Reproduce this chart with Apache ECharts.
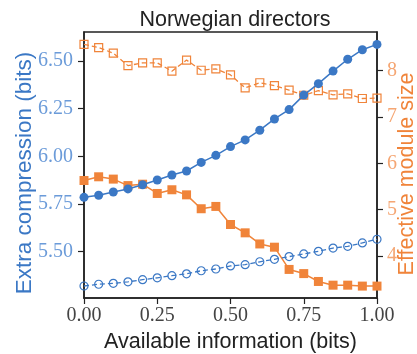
<!DOCTYPE html>
<html>
<head>
<meta charset="utf-8">
<script src="https://cdn.jsdelivr.net/npm/echarts@6/dist/echarts.min.js"></script>
<style>html,body{margin:0;padding:0;background:#fff;}#c{width:417px;height:354px;}</style>
</head>
<body>
<div id="c"></div>
<script>
const xValues = [0,0.05,0.10,0.15,0.20,0.25,0.30,0.35,0.40,0.45,0.50,0.55,0.60,0.65,0.70,0.75,0.80,0.85,0.90,0.95,1.00];
const compressionFull = [5.785,5.796,5.813,5.829,5.851,5.876,5.902,5.923,5.968,6.005,6.051,6.086,6.137,6.196,6.245,6.321,6.381,6.447,6.509,6.559,6.587];
const compressionOpen = [5.320,5.329,5.334,5.342,5.353,5.363,5.374,5.384,5.400,5.409,5.425,5.432,5.447,5.460,5.474,5.488,5.502,5.519,5.528,5.546,5.565];
const moduleFull = [5.63,5.71,5.66,5.52,5.55,5.35,5.43,5.32,5.02,5.07,4.68,4.50,4.26,4.19,3.71,3.62,3.45,3.37,3.37,3.35,3.35];
const moduleOpen = [8.57,8.50,8.38,8.11,8.17,8.17,7.99,8.23,8.01,8.04,7.91,7.63,7.74,7.68,7.58,7.47,7.57,7.48,7.50,7.40,7.41];
const xTicks = [0, 0.25, 0.5, 0.75, 1.0];
const leftTicks = [5.50, 5.75, 6.00, 6.25, 6.50];
const rightTicks = [4, 5, 6, 7, 8];

const BLUE = '#3b78c5', ORANGE = '#f0843a';
const BLUE_LIGHT = '#6b9bd9', ORANGE_LIGHT = '#f5a673';
const pairs = ys => xValues.map((x, i) => [x, ys[i]]);

const chart = echarts.init(document.getElementById('c'), null, {renderer: 'canvas'});
chart.setOption({
  animation: false,
  backgroundColor: '#fff',
  title: {
    text: 'Norwegian directors', left: 230, top: 4, textAlign: 'center',
    textStyle: {fontFamily: 'Liberation Sans', fontSize: 21.5, fontWeight: 'normal', color: '#222'}
  },
  grid: {left: 84, right: 40, top: 32, bottom: 56, show: true, borderColor: '#222', borderWidth: 1.5,
    containLabel: false, outerBoundsMode: 'none'},
  xAxis: {
    type: 'value', min: 0, max: 1, interval: 0.25,
    name: 'Available information (bits)', nameLocation: 'middle', nameGap: 33, nameMoveOverlap: false,
    nameTextStyle: {fontFamily: 'Liberation Sans', fontSize: 21.5, color: '#222'},
    axisLine: {show: true, lineStyle: {color: '#222', width: 1.5}},
    axisTick: {show: true, length: 6, lineStyle: {color: '#222', width: 1.2}},
    axisLabel: {margin: 8, fontFamily: 'Liberation Serif', fontSize: 20, color: '#444',
      formatter: v => v.toFixed(2), customValues: xTicks},
    splitLine: {show: false}
  },
  yAxis: [{
    type: 'value', position: 'left', min: 5.257, max: 6.652,
    name: 'Extra compression (bits)', nameLocation: 'middle', nameGap: 48, nameRotate: 90, nameMoveOverlap: false,
    nameTextStyle: {fontFamily: 'Liberation Sans', fontSize: 22.5, color: BLUE, padding: [0, 16, 0, 0]},
    axisLine: {show: true, lineStyle: {color: '#222', width: 1.5}},
    axisTick: {show: true, length: 6, lineStyle: {color: '#222', width: 1.2}, customValues: leftTicks},
    axisLabel: {margin: 11, fontFamily: 'Liberation Serif', fontSize: 20, color: BLUE_LIGHT,
      formatter: v => v.toFixed(2), customValues: leftTicks},
    splitLine: {show: false}
  }, {
    type: 'value', position: 'right', min: 3.093, max: 8.836,
    name: 'Effective module size', nameLocation: 'middle', nameGap: 19, nameRotate: 90, nameMoveOverlap: false,
    nameTextStyle: {fontFamily: 'Liberation Sans', fontSize: 21.5, color: ORANGE, padding: [0, 18, 0, 0]},
    axisLine: {show: true, lineStyle: {color: '#222', width: 1.5}},
    axisTick: {show: true, length: 6, lineStyle: {color: '#222', width: 1.2}, customValues: rightTicks},
    axisLabel: {margin: 10, fontFamily: 'Liberation Serif', fontSize: 20, color: ORANGE_LIGHT,
      formatter: v => String(v), customValues: rightTicks},
    splitLine: {show: false}
  }],
  series: [{
    type: 'line', yAxisIndex: 1, data: pairs(moduleOpen),
    symbol: 'rect', symbolSize: 8,
    itemStyle: {color: 'transparent', borderColor: ORANGE, borderWidth: 1.2},
    lineStyle: {color: ORANGE, width: 1.3, type: [5, 3]}, z: 2
  }, {
    type: 'line', yAxisIndex: 1, data: pairs(moduleFull),
    symbol: 'rect', symbolSize: 9,
    itemStyle: {color: ORANGE},
    lineStyle: {color: ORANGE, width: 1.5}, z: 3
  }, {
    type: 'line', yAxisIndex: 0, data: pairs(compressionOpen),
    symbol: 'circle', symbolSize: 8,
    itemStyle: {color: 'transparent', borderColor: BLUE, borderWidth: 1.2},
    lineStyle: {color: BLUE, width: 1.3, type: [5, 3]}, z: 4
  }, {
    type: 'line', yAxisIndex: 0, data: pairs(compressionFull),
    symbol: 'circle', symbolSize: 9,
    itemStyle: {color: BLUE},
    lineStyle: {color: BLUE, width: 1.5}, z: 5
  }]
});
</script>
</body>
</html>
